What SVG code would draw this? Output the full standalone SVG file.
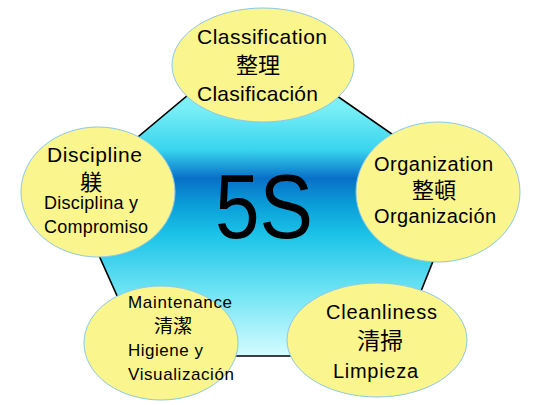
<svg xmlns="http://www.w3.org/2000/svg" width="540" height="405" viewBox="0 0 540 405">
<defs>
<linearGradient id="g" gradientUnits="userSpaceOnUse" x1="0" y1="39" x2="0" y2="356">
<stop offset="0" stop-color="#A0FCFF"/>
<stop offset="0.22" stop-color="#78EEF6"/>
<stop offset="0.35" stop-color="#38D4EE"/>
<stop offset="0.44" stop-color="#0870C8"/>
<stop offset="0.52" stop-color="#0A9CD8"/>
<stop offset="0.62" stop-color="#1CC4E8"/>
<stop offset="0.8" stop-color="#70E4F4"/>
<stop offset="1" stop-color="#D4FCFF"/>
</linearGradient>
</defs>
<style>
.n{fill:#FAF58C;stroke:#8CC8E8;stroke-width:1}
text{font-family:"Liberation Sans","Noto Sans CJK JP",sans-serif;fill:#000}
.cjk{font-family:"Noto Sans CJK JP","Liberation Sans",sans-serif}
</style>
<rect width="540" height="405" fill="#fff"/>
<g id="hub">
<polygon points="255,39 464,184 395,356 144,356 71,193" fill="url(#g)" stroke="#000" stroke-width="1.6"/>
<text x="215" y="238" font-size="91" textLength="98" lengthAdjust="spacingAndGlyphs">5S</text>
</g>
<g id="connectors"></g>
<g id="classification">
<ellipse class="n" cx="263" cy="65" rx="91" ry="57"/>
<text x="197" y="44" font-size="21" textLength="130">Classification</text>
<text class="cjk" x="236" y="73" font-size="22">整理</text>
<text x="197" y="101" font-size="21" textLength="121">Clasificación</text>
</g>
<g id="discipline">
<ellipse class="n" cx="98" cy="192" rx="77" ry="65"/>
<text x="47" y="162" font-size="21" textLength="95">Discipline</text>
<text class="cjk" x="80" y="190" font-size="22">躾</text>
<text x="44" y="209" font-size="18" textLength="94">Disciplina y</text>
<text x="44" y="233" font-size="18" textLength="104">Compromiso</text>
</g>
<g id="organization">
<ellipse class="n" cx="438" cy="192" rx="82" ry="70"/>
<text x="374" y="171" font-size="20" textLength="119">Organization</text>
<text class="cjk" x="412" y="198" font-size="22">整頓</text>
<text x="374" y="223" font-size="20" textLength="122">Organización</text>
</g>
<g id="maintenance">
<ellipse class="n" cx="161" cy="343" rx="77" ry="57"/>
<text x="128" y="308" font-size="17" textLength="104">Maintenance</text>
<text class="cjk" x="154" y="333" font-size="19">清潔</text>
<text x="128" y="356" font-size="17" textLength="75">Higiene y</text>
<text x="128" y="380" font-size="17" textLength="106">Visualización</text>
</g>
<g id="cleanliness">
<ellipse class="n" cx="377" cy="340" rx="90" ry="57"/>
<text x="326" y="319" font-size="20" textLength="111">Cleanliness</text>
<text class="cjk" x="357" y="349" font-size="23">清掃</text>
<text x="333" y="378" font-size="20" textLength="85">Limpieza</text>
</g>
</svg>
